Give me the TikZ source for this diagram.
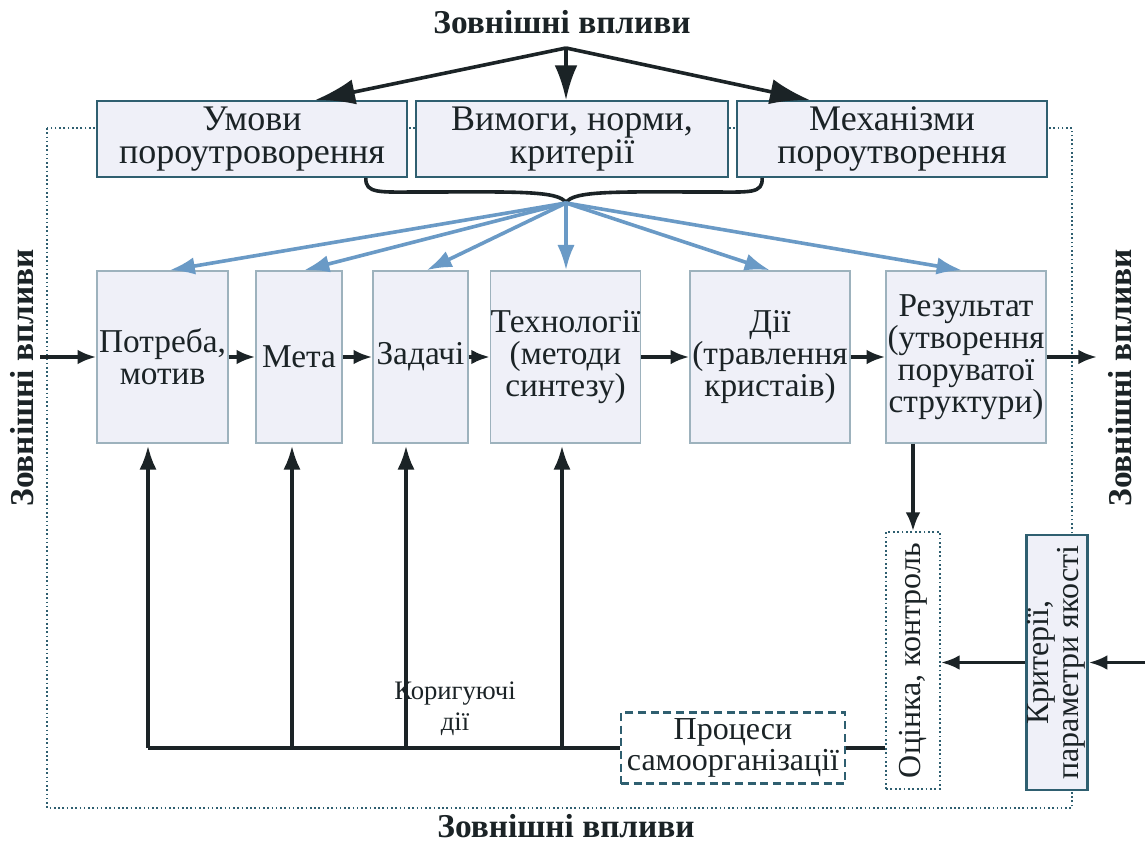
\documentclass[tikz,border=0pt]{standalone}
\usepackage{fontspec}
\setmainfont{Liberation Serif}
\usetikzlibrary{arrows.meta,calc}
\definecolor{ink}{HTML}{1B2326}
\definecolor{frame}{HTML}{2F5F70}
\definecolor{midb}{HTML}{9DB2BD}
\definecolor{boxfill}{HTML}{EFF0F8}
\definecolor{blu}{HTML}{6A9AC6}
\begin{document}
\begin{tikzpicture}[x=0.75pt,y=-0.75pt,
  every node/.style={text=ink,inner sep=0pt,align=center},
  topbox/.style={draw=frame,fill=boxfill,line width=1.3pt,minimum height=57pt,font=\fontsize{27}{25}\selectfont},
  midbox/.style={draw=midb,fill=boxfill,line width=1.1pt,minimum height=129pt,font=\fontsize{25}{24}\selectfont},
  side/.style={font=\fontsize{25}{25}\selectfont\bfseries},
  blk/.style={draw=ink,line width=2.7pt,-{Latex[length=14pt,width=11pt]}},
  upar/.style={draw=ink,line width=2.7pt,-{Latex[length=18pt,width=13pt]},shorten >=1.5pt},
  bigarr/.style={draw=ink,line width=2.7pt,-{Latex[length=30pt,width=19pt]}},
  bigarrn/.style={draw=ink,line width=2.7pt,-{Latex[length=26pt,width=17pt]}},
  bluarr/.style={draw=blu,line width=2.7pt,-{Latex[length=19pt,width=13pt]}},
  plain/.style={draw=ink,line width=2.7pt}]
\useasboundingbox (0,0) rectangle (1145,845);
\fill[white] (0,0) rectangle (1145,845);
% dotted frame
\draw[frame,dotted,line width=1.2pt] (47,128) rectangle (1072,808);
% side labels
\node[side] (tt) at (562,22) {Зовнішні впливи};
\node[side] (tb) at (566,826) {Зовнішні впливи};
\node[side,rotate=90] (tl) at (22,378) {Зовнішні впливи};
\node[side,rotate=90] (tr) at (1120,378) {Зовнішні впливи};
% top boxes
\node[topbox,minimum width=232.5pt] (b1) at (252,139) {Умови\\пороутроворення};
\node[topbox,minimum width=234pt] (b2) at (572,139) {Вимоги, норми,\\критерії};
\node[topbox,minimum width=232.5pt] (b3) at (892,139) {Механізми\\пороутворення};
% middle boxes
\node[midbox,minimum width=98.25pt] (p) at (162.5,357) {Потреба,\\мотив};
\node[midbox,minimum width=64.5pt] (m) at (299,357) {Мета};
\node[midbox,minimum width=71.25pt] (z) at (420.5,357) {Задачі};
\node[midbox,minimum width=102.75pt] (t) at (565.5,357) {Технології\\(методи\\синтезу)};
\node[midbox,minimum width=120pt] (d) at (770,357) {Дії\\(травлення\\кристаів)};
\node[midbox,minimum width=120pt] (r) at (966,357) {Результат\\(утворення\\поруватої\\структури)};
% lower boxes
\node[draw=frame,dashed,dash pattern=on 6pt off 3.5pt,line width=1.8pt,minimum width=168pt,minimum height=53.25pt,font=\fontsize{24}{23}\selectfont] (proc) at (733,748) {Процеси\\самоорганізації};
\node[draw=frame,dotted,line width=1.3pt,minimum width=40.5pt,minimum height=192.75pt,font=\fontsize{24}{23}\selectfont] (o) at (913,660.5) {\rotatebox{90}{Оцінка, контроль}};
\node[draw=frame,line width=2.2pt,fill=boxfill,minimum width=42pt,minimum height=191.25pt,font=\fontsize{24}{22.5}\selectfont] (k) at (1057,662.5) {\rotatebox{90}{\begin{tabular}{@{}c@{}}Критерії,\\параметри якості\end{tabular}}};
\node[font=\fontsize{20}{23}\selectfont] (kd) at (455,709) {Коригуючі\\дії};
% top arrows
\coordinate (ts) at (566,48);
\draw[bigarr] (ts) -- ($(b1.north)+(63,0)$);
\draw[bigarrn] (ts) -- (b2.north -| ts);
\draw[bigarr] (ts) -- ($(b3.north)+(-82,0)$);
% brace
\coordinate (tip) at (566,203);
\draw[ink,line width=2.7pt] ($(b1.south east)+(-42,0)$) .. controls (365,194) and (380,192) .. (420,192) .. controls (510,192) and (560,190) .. (tip);
\draw[ink,line width=2.7pt] ($(b3.south west)+(26,0)$) .. controls (763,194) and (750,192) .. (710,192) .. controls (622,192) and (572,190) .. (tip);
% blue arrows
\draw[bluarr] (tip) -- ($(p.north)+(7,0)$);
\draw[bluarr] (tip) -- ($(m.north)+(5,0)$);
\draw[bluarr] (tip) -- ($(z.north)+(6,0)$);
\draw[bluarr] (tip) -- (t.north -| tip);
\draw[bluarr] (tip) -- (d.north);
\draw[bluarr] (tip) -- ($(r.north)+(-4,0)$);
% main chain
\coordinate (inL) at (40,357);
\coordinate (outR) at (1097,357);
\draw[blk] (inL) -- (p.west);
\draw[blk] (p.east) -- (m.west);
\draw[blk] (m.east) -- (z.west);
\draw[blk] (z.east) -- (t.west);
\draw[blk] (t.east) -- (d.west);
\draw[blk] (d.east) -- (r.west);
\draw[blk] (r.east) -- (outR);
% feedback
\coordinate (f1) at (148,748);
\coordinate (f2) at (292,748);
\coordinate (f3) at (406,748);
\coordinate (f4) at (562,748);
\draw[plain] (f1) -- (proc.west);
\draw[plain] (proc.east) -- (o.west |- proc.east);
\draw[upar] (f1) -- (f1 |- p.south);
\draw[upar] (f2) -- (f2 |- m.south);
\draw[upar] (f3) -- (f3 |- z.south);
\draw[upar] (f4) -- (f4 |- t.south);
% control
\draw[blk] (o.north |- r.south) -- (o.north);
\draw[blk] (k.west) -- (k.west -| o.east);
\coordinate (kin) at (1145,662.5);
\draw[blk] (kin) -- (k.east);
\end{tikzpicture}
\end{document}
